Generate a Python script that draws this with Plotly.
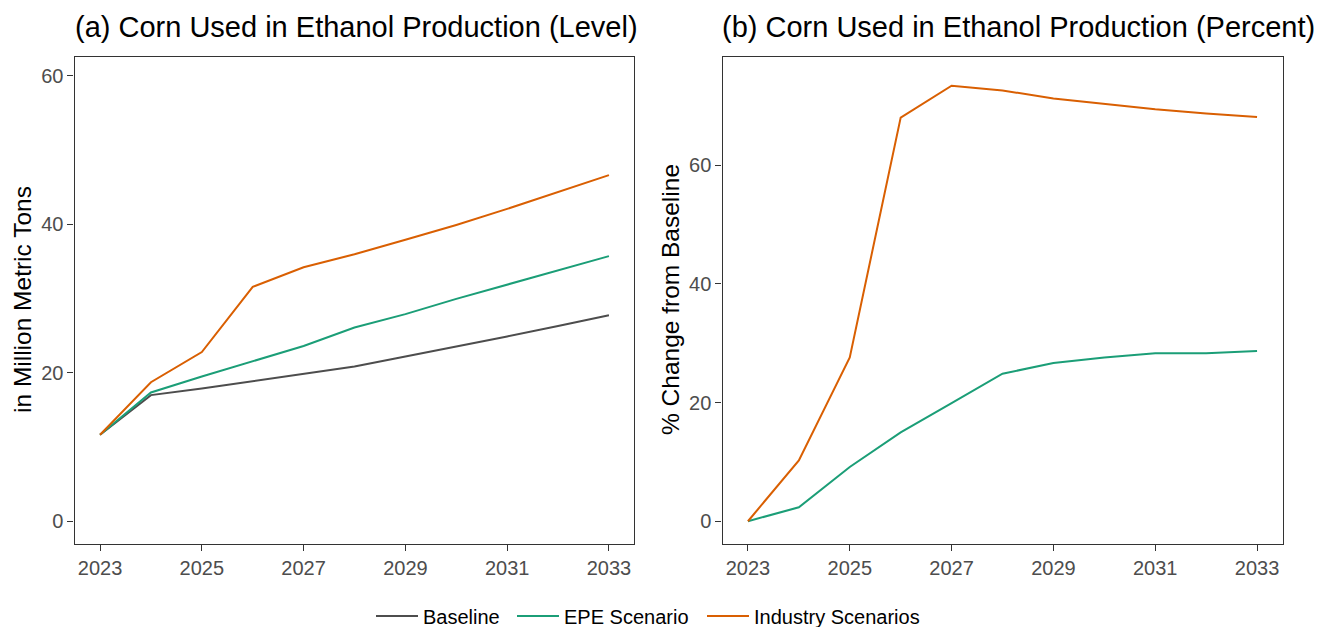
import plotly.graph_objects as go

# Projection years
years = list(range(2023, 2034))

# Corn used in ethanol production, million metric tons
baseline_level = [11.66, 17.0, 17.9, 18.9, 19.8, 20.85, 22.2, 23.5, 24.9, 26.3, 27.76]
epe_level = [11.66, 17.35, 19.5, 21.6, 23.6, 26.1, 27.9, 29.95, 31.9, 33.8, 35.7]
industry_level = [11.66, 18.74, 22.8, 31.57, 34.2, 35.96, 37.9, 39.9, 42.06, 44.3, 46.6]

# Percent change from baseline
epe_pct = [0.0, 2.36, 9.14, 14.97, 19.9, 24.85, 26.64, 27.6, 28.3, 28.3, 28.66]
industry_pct = [0.0, 10.26, 27.6, 68.0, 73.36, 72.57, 71.2, 70.3, 69.4, 68.7, 68.1]

x_ticks = [2023, 2025, 2027, 2029, 2031, 2033]
y_ticks_level = [0, 20, 40, 60]
y_ticks_pct = [0, 20, 40, 60]

panel_titles = ["(a) Corn Used in Ethanol Production (Level)",
                "(b) Corn Used in Ethanol Production (Percent)"]
y_titles = ["in Million Metric Tons", "% Change from Baseline"]

COL_BASE = "#4D4D4D"
COL_EPE = "#1B9E77"
COL_IND = "#D95F02"
FONT = "Liberation Sans, Arial, Helvetica, sans-serif"

W, H = 1320, 627

fig = go.Figure()

fig.add_trace(go.Scatter(x=years, y=baseline_level, mode="lines", name="Baseline",
                         line=dict(color=COL_BASE, width=2), xaxis="x", yaxis="y",
                         legendgroup="b", legend="legend"))
fig.add_trace(go.Scatter(x=years, y=epe_level, mode="lines", name="EPE Scenario",
                         line=dict(color=COL_EPE, width=2), xaxis="x", yaxis="y",
                         legendgroup="e", legend="legend2"))
fig.add_trace(go.Scatter(x=years, y=industry_level, mode="lines", name="Industry Scenarios",
                         line=dict(color=COL_IND, width=2), xaxis="x", yaxis="y",
                         legendgroup="i", legend="legend3"))
fig.add_trace(go.Scatter(x=years, y=epe_pct, mode="lines", name="EPE Scenario",
                         line=dict(color=COL_EPE, width=2), xaxis="x2", yaxis="y2",
                         legendgroup="e", showlegend=False))
fig.add_trace(go.Scatter(x=years, y=industry_pct, mode="lines", name="Industry Scenarios",
                         line=dict(color=COL_IND, width=2), xaxis="x2", yaxis="y2",
                         legendgroup="i", showlegend=False))

axis_common = dict(
    showline=True, linecolor="#333333", linewidth=1.4, mirror=True,
    ticks="outside", ticklen=6, tickwidth=1.3, tickcolor="#333333",
    showgrid=False, zeroline=False,
    tickfont=dict(family=FONT, size=20, color="#4D4D4D"),
)

y0 = 1 - 543.5 / H
y1 = 1 - 57 / H


def legend_at(px):
    # one legend entry, left edge placed at pixel px
    return dict(orientation="h", x=px / W, xanchor="left", y=1 - 616 / H,
                yanchor="middle", font=dict(family=FONT, size=20, color="black"),
                bgcolor="rgba(0,0,0,0)", itemwidth=42)


fig.update_layout(
    width=W, height=H,
    margin=dict(l=0, r=0, t=0, b=0, autoexpand=False),
    paper_bgcolor="white", plot_bgcolor="white",
    font=dict(family=FONT, color="black"),
    xaxis=dict(domain=[74.6 / W, 634.4 / W], range=[2022.5, 2033.5],
               tickvals=x_ticks, anchor="y", **axis_common),
    yaxis=dict(domain=[y0, y1], range=[-2.97, 62.5], tickvals=y_ticks_level,
               anchor="x", **axis_common),
    xaxis2=dict(domain=[722.5 / W, 1282.5 / W], range=[2022.5, 2033.5],
                tickvals=x_ticks, anchor="y2", **axis_common),
    yaxis2=dict(domain=[y0, y1], range=[-3.75, 78.2], tickvals=y_ticks_pct,
                anchor="x2", **axis_common),
    showlegend=True,
    legend=legend_at(371),
    legend2=legend_at(512),
    legend3=legend_at(702),
)

# Panel titles
fig.add_annotation(text=panel_titles[0], x=73 / W, y=1 - 27 / H, xref="paper", yref="paper",
                   xanchor="left", yanchor="middle", showarrow=False,
                   font=dict(family=FONT, size=29, color="black"))
fig.add_annotation(text=panel_titles[1], x=720 / W, y=1 - 27 / H, xref="paper", yref="paper",
                   xanchor="left", yanchor="middle", showarrow=False,
                   font=dict(family=FONT, size=29, color="black"))

# Y-axis titles
fig.add_annotation(text=y_titles[0], x=22 / W, y=1 - 300 / H, xref="paper", yref="paper",
                   xanchor="center", yanchor="middle", textangle=-90, showarrow=False,
                   font=dict(family=FONT, size=24.5, color="black"))
fig.add_annotation(text=y_titles[1], x=670 / W, y=1 - 300 / H, xref="paper", yref="paper",
                   xanchor="center", yanchor="middle", textangle=-90, showarrow=False,
                   font=dict(family=FONT, size=24.5, color="black"))

fig.write_html("out.html")
